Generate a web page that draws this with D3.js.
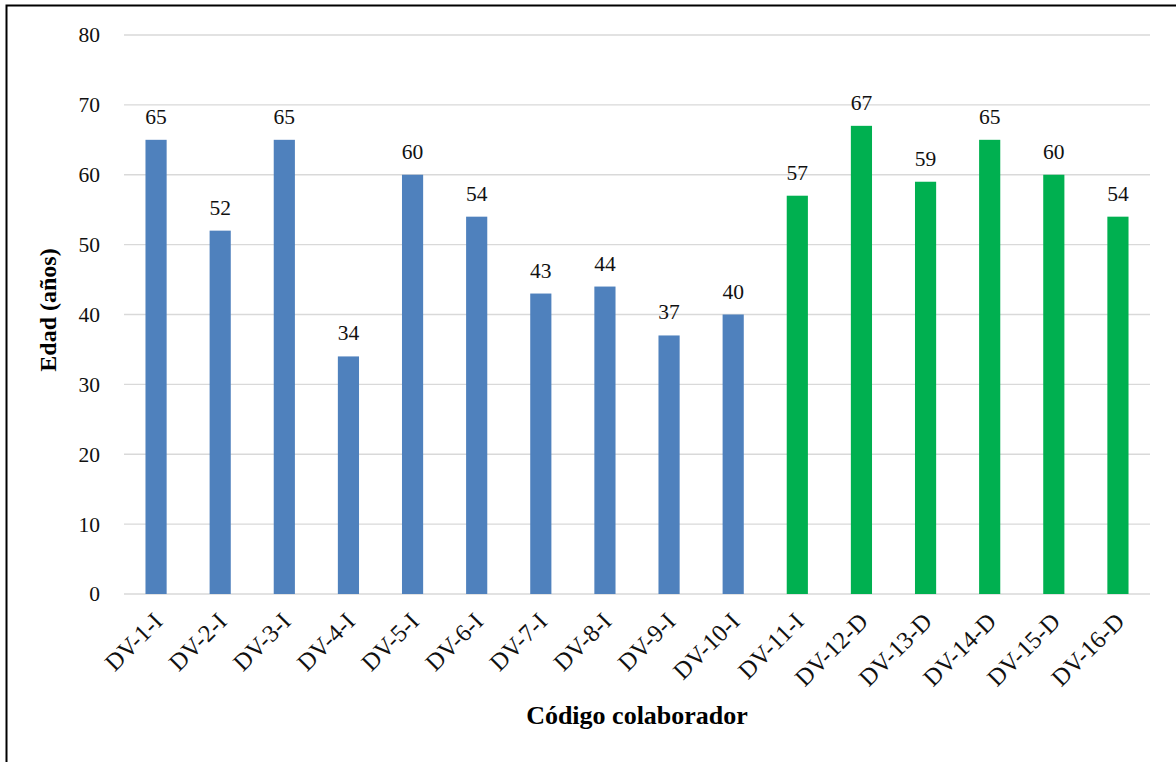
<!DOCTYPE html>
<html lang="es">
  <head>
    <meta charset="UTF-8" />
    <title>Edad por código colaborador</title>
    <style>
      body {
        margin: 0;
        background: #fff;
      }
      svg {
        display: block;
        font-family: "Liberation Serif", "Times New Roman", serif;
      }
      .grid line {
        stroke: #d9d9d9;
        stroke-width: 1.3px;
      }
    </style>
  </head>
  <body>
    <svg width="1176" height="762"></svg>

    <script src="https://d3js.org/d3.v7.min.js"></script>
    <script>
      // datos del gráfico
      const codigos = [
        "DV-1-I", "DV-2-I", "DV-3-I", "DV-4-I", "DV-5-I", "DV-6-I",
        "DV-7-I", "DV-8-I", "DV-9-I", "DV-10-I", "DV-11-I", "DV-12-D",
        "DV-13-D", "DV-14-D", "DV-15-D", "DV-16-D",
      ];
      const edades = [65, 52, 65, 34, 60, 54, 43, 44, 37, 40, 57, 67, 59, 65, 60, 54];
      const grupos = ["I", "I", "I", "I", "I", "I", "I", "I", "I", "I", "D", "D", "D", "D", "D", "D"];
      const yTicks = [0, 10, 20, 30, 40, 50, 60, 70, 80];

      const colores = { I: "#4f81bd", D: "#00b050" };

      const svg = d3.select("svg");

      // marco exterior
      svg
        .append("rect")
        .attr("x", 6.5)
        .attr("y", 5.5)
        .attr("width", 1180)
        .attr("height", 770)
        .attr("fill", "none")
        .attr("stroke", "#000")
        .attr("stroke-width", 2);

      const margin = { left: 124, right: 1150, top: 35, bottom: 594 };

      const x = d3
        .scaleBand()
        .domain(codigos)
        .range([margin.left, margin.right])
        .paddingInner(0.67)
        .paddingOuter(0.335);

      const y = d3.scaleLinear().domain([0, 80]).range([margin.bottom, margin.top]);

      // líneas de cuadrícula
      svg
        .append("g")
        .attr("class", "grid")
        .selectAll("line")
        .data(yTicks)
        .join("line")
        .attr("x1", margin.left)
        .attr("x2", margin.right)
        .attr("y1", (d) => y(d))
        .attr("y2", (d) => y(d));

      // eje Y
      const yAxis = svg
        .append("g")
        .attr("transform", `translate(${margin.left},0)`)
        .call(d3.axisLeft(y).tickValues(yTicks).tickSize(0).tickPadding(24));
      yAxis.attr("font-family", null).attr("font-size", null);
      yAxis.select(".domain").remove();
      yAxis.selectAll("text").attr("font-size", 21.5).attr("fill", "#111");

      // barras
      svg
        .append("g")
        .selectAll("rect")
        .data(edades)
        .join("rect")
        .attr("x", (d, i) => x(codigos[i]))
        .attr("y", (d) => y(d))
        .attr("width", x.bandwidth())
        .attr("height", (d) => y(0) - y(d))
        .attr("fill", (d, i) => colores[grupos[i]]);

      // etiquetas de valor
      svg
        .append("g")
        .selectAll("text")
        .data(edades)
        .join("text")
        .attr("x", (d, i) => x(codigos[i]) + x.bandwidth() / 2)
        .attr("y", (d) => y(d) - 16)
        .attr("text-anchor", "middle")
        .attr("font-size", 21.5)
        .attr("fill", "#111")
        .text((d) => d);

      // eje X (etiquetas giradas)
      svg
        .append("g")
        .selectAll("text")
        .data(codigos)
        .join("text")
        .attr(
          "transform",
          (d) => `translate(${x(d) + x.bandwidth() / 2 + 8},${margin.bottom + 29}) rotate(-45)`
        )
        .attr("text-anchor", "end")
        .attr("font-size", 24.5)
        .attr("fill", "#111")
        .text((d) => d);

      // títulos de los ejes
      svg
        .append("text")
        .attr("x", (margin.left + margin.right) / 2)
        .attr("y", 724)
        .attr("text-anchor", "middle")
        .attr("font-size", 26)
        .attr("font-weight", "bold")
        .text("Código colaborador");

      svg
        .append("text")
        .attr("transform", `translate(56,310) rotate(-90)`)
        .attr("text-anchor", "middle")
        .attr("font-size", 24)
        .attr("font-weight", "bold")
        .text("Edad (años)");
    </script>
  </body>
</html>
